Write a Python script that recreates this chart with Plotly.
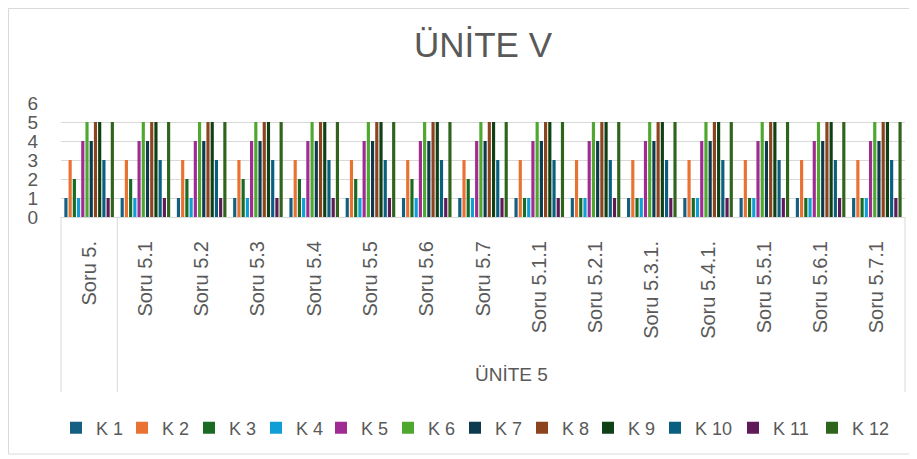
import plotly.graph_objects as go

categories = ["Soru 5.", "Soru 5.1", "Soru 5.2", "Soru 5.3", "Soru 5.4", "Soru 5.5",
              "Soru 5.6", "Soru 5.7", "Soru 5.1.1", "Soru 5.2.1", "Soru 5.3.1.",
              "Soru 5.4.1.", "Soru 5.5.1", "Soru 5.6.1", "Soru 5.7.1"]
group_label = "ÜNİTE 5"
series_names = ["K 1", "K 2", "K 3", "K 4", "K 5", "K 6", "K 7", "K 8", "K 9", "K 10", "K 11", "K 12"]

K1 = [1, 1, 1, 1, 1, 1, 1, 1, 1, 1, 1, 1, 1, 1, 1]
K2 = [3, 3, 3, 3, 3, 3, 3, 3, 3, 3, 3, 3, 3, 3, 3]
K3 = [2, 2, 2, 2, 2, 2, 2, 2, 1, 1, 1, 1, 1, 1, 1]
K4 = [1, 1, 1, 1, 1, 1, 1, 1, 1, 1, 1, 1, 1, 1, 1]
K5 = [4, 4, 4, 4, 4, 4, 4, 4, 4, 4, 4, 4, 4, 4, 4]
K6 = [5, 5, 5, 5, 5, 5, 5, 5, 5, 5, 5, 5, 5, 5, 5]
K7 = [4, 4, 4, 4, 4, 4, 4, 4, 4, 4, 4, 4, 4, 4, 4]
K8 = [5, 5, 5, 5, 5, 5, 5, 5, 5, 5, 5, 5, 5, 5, 5]
K9 = [5, 5, 5, 5, 5, 5, 5, 5, 5, 5, 5, 5, 5, 5, 5]
K10 = [3, 3, 3, 3, 3, 3, 3, 3, 3, 3, 3, 3, 3, 3, 3]
K11 = [1, 1, 1, 1, 1, 1, 1, 1, 1, 1, 1, 1, 1, 1, 1]
K12 = [5, 5, 5, 5, 5, 5, 5, 5, 5, 5, 5, 5, 5, 5, 5]
series_values = [K1, K2, K3, K4, K5, K6, K7, K8, K9, K10, K11, K12]

colors = ["#156082", "#E97132", "#196B24", "#0F9ED5", "#A02B93", "#4EA72E",
          "#0D3A4E", "#8C441E", "#0F4016", "#095F80", "#601A58", "#2F641C"]

# screen x (px) of each legend entry's colour square in the reference layout
legend_square_px = [71, 137, 204, 271, 336, 403, 470, 537, 603, 670, 748, 827]

FONT = "Liberation Sans, Arial, sans-serif"
TXT = "#595959"
GRID = "#D9D9D9"

def legend_id(i):
    return "legend" if i == 0 else f"legend{i + 1}"

fig = go.Figure()
for i, (name, vals, col) in enumerate(zip(series_names, series_values, colors)):
    fig.add_trace(go.Bar(x=categories, y=vals, name=name, marker=dict(color=col, line=dict(width=0)),
                         legend=legend_id(i)))

# page body has an 8px margin: figure drawn in coordinates offset by OFF
OFF = 8
W, H = 917 - OFF, 459 - OFF
L, R, T, B = 61 - OFF, 12, 103 - OFF, 242
pw, ph = W - L - R, H - T - B

def px_x(x):  # reference-screen x -> paper
    return (x - OFF - L) / pw

def px_y(y):  # reference-screen y -> paper
    return (H - B - (y - OFF)) / ph

n = len(categories)
shapes = []
for xp in [0, 1 / n, 1]:
    shapes.append(dict(type="line", xref="paper", yref="paper", x0=xp, x1=xp,
                       y0=0, y1=px_y(392), line=dict(color=GRID, width=1)))
shapes.append(dict(type="rect", xref="paper", yref="paper", x0=px_x(8.5), x1=px_x(911),
                   y0=px_y(454), y1=px_y(8.5), line=dict(color=GRID, width=1), layer="below"))

legends = {}
for i, sx in enumerate(legend_square_px):
    legends[legend_id(i)] = dict(orientation="h", yanchor="middle", xanchor="left", y=px_y(428),
                                 x=px_x(sx - 15), font=dict(size=18, color=TXT), itemwidth=30,
                                 bgcolor="rgba(0,0,0,0)", borderwidth=0)

fig.update_layout(
    width=W, height=H,
    margin=dict(l=L, r=R, t=T, b=B, autoexpand=False),
    paper_bgcolor="white", plot_bgcolor="white",
    font=dict(family=FONT, color=TXT, size=18),
    title=dict(text="ÜNİTE V", x=0.5, xref="paper", xanchor="center", y=1 - (45 - OFF) / H, yanchor="middle",
               font=dict(size=35, color=TXT, family=FONT), automargin=False),
    barmode="group", bargap=0.1, bargroupgap=0.25,
    showlegend=True,
    shapes=shapes,
    annotations=[dict(text=group_label, xref="paper", yref="paper", x=(1 / n + 1) / 2, y=px_y(374),
                      showarrow=False, xanchor="center", yanchor="middle",
                      font=dict(size=19, color=TXT, family=FONT))],
    **legends,
)
fig.update_yaxes(range=[0, 6], dtick=1, showgrid=True, gridcolor=GRID, gridwidth=1,
                 zeroline=False, showline=False, ticks="", ticklabelstandoff=22,
                 tickfont=dict(size=19, color=TXT), automargin=False)
fig.update_xaxes(type="category", tickangle=-90, showgrid=False, showline=True, linecolor=GRID,
                 linewidth=1, ticks="", tickfont=dict(size=20, color=TXT), ticklabelstandoff=15,
                 automargin=False)

fig.write_html("out.html")
